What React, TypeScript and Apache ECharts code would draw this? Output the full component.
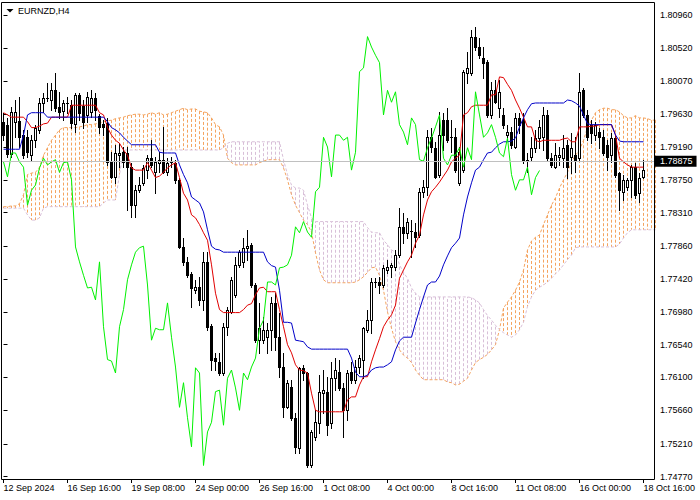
import React, { useEffect, useRef } from "react";
import * as echarts from "echarts";

const FONT = "'Liberation Sans', Arial, sans-serif";

// x-axis: bar index of labelled bars and their texts (H4 bars)
const labelBars = [0, 16, 32, 48, 64, 80, 96, 112, 128, 144, 160];
const timeLabels = [
  "12 Sep 2024", "16 Sep 16:00", "19 Sep 08:00", "24 Sep 00:00", "26 Sep 16:00",
  "1 Oct 08:00", "4 Oct 00:00", "8 Oct 16:00", "11 Oct 08:00", "16 Oct 00:00", "18 Oct 16:00",
];
const priceTicks = [
  1.7477, 1.7521, 1.7566, 1.761, 1.7654, 1.7698, 1.7742, 1.7786,
  1.7831, 1.7875, 1.7919, 1.7963, 1.8007, 1.8052, 1.8096,
];
const lastPrice = 1.78875;

const opens = [
  1.7953, 1.7949, 1.7910, 1.7953, 1.7954, 1.7935, 1.7932, 1.7908, 1.7928, 1.7942,
  1.7978, 1.7983, 1.7982, 1.7995, 1.7973, 1.7967, 1.7978, 1.7975, 1.7950, 1.7989,
  1.7974, 1.7962, 1.7966, 1.7985, 1.7961, 1.7950, 1.7951, 1.7899, 1.7879, 1.7908,
  1.7912, 1.7911, 1.7892, 1.7841, 1.7861, 1.7871, 1.7888, 1.7904, 1.7885, 1.7898,
  1.7902, 1.7885, 1.7898, 1.7898, 1.7875, 1.7785, 1.7765, 1.7749, 1.7727, 1.7731,
  1.7714, 1.7765, 1.7679, 1.7636, 1.7631, 1.7616, 1.7678, 1.7698, 1.7721, 1.7761,
  1.7765, 1.7784, 1.7788, 1.7734, 1.7660, 1.7660, 1.7664, 1.7674, 1.7710, 1.7664,
  1.7624, 1.7570, 1.7597, 1.7556, 1.7516, 1.7623, 1.7616, 1.7492, 1.7530, 1.7549,
  1.7589, 1.7591, 1.7549, 1.7609, 1.7617, 1.7596, 1.7566, 1.7617, 1.7607, 1.7624,
  1.7634, 1.7674, 1.7687, 1.7737, 1.7738, 1.7734, 1.7754, 1.7758, 1.7758, 1.7774,
  1.7812, 1.7804, 1.7806, 1.7805, 1.7801, 1.7859, 1.7865, 1.7932, 1.7918, 1.7882,
  1.7955, 1.7955, 1.7931, 1.7932, 1.7871, 1.7888, 1.8018, 1.8018, 1.8067, 1.8053,
  1.8038, 1.8033, 1.7962, 1.7995, 1.7971, 1.7962, 1.7935, 1.7939, 1.7919, 1.7958,
  1.7955, 1.7902, 1.7906, 1.7918, 1.7931, 1.7932, 1.7962, 1.7904, 1.7892, 1.7906,
  1.7904, 1.7922, 1.7906, 1.7908, 1.7904, 1.7995, 1.7962, 1.7949, 1.7935, 1.7939,
  1.7932, 1.7922, 1.7908, 1.7931, 1.7884, 1.7859, 1.7865, 1.7875, 1.7892, 1.7857,
  1.7879,
];
const highs = [
  1.7965, 1.7958, 1.7973, 1.7982, 1.7986, 1.7942, 1.7942, 1.7935, 1.7949, 1.7985,
  1.7991, 1.8005, 1.8005, 1.8018, 1.7993, 1.7982, 1.7986, 1.7982, 1.7991, 1.7991,
  1.7982, 1.7993, 1.7995, 1.7991, 1.7963, 1.7955, 1.7958, 1.7912, 1.7922, 1.7924,
  1.7919, 1.7919, 1.7898, 1.7868, 1.7879, 1.7895, 1.7908, 1.7928, 1.7906, 1.7912,
  1.7946, 1.7904, 1.7906, 1.7902, 1.7878, 1.7797, 1.7772, 1.7751, 1.7741, 1.7745,
  1.7778, 1.7778, 1.7682, 1.7643, 1.7643, 1.7683, 1.7705, 1.7745, 1.7772, 1.7781,
  1.7797, 1.7808, 1.7790, 1.7737, 1.7710, 1.7691, 1.7683, 1.7718, 1.7723, 1.7697,
  1.7643, 1.7607, 1.7607, 1.7562, 1.7624, 1.7627, 1.7617, 1.7540, 1.7566, 1.7613,
  1.7620, 1.7611, 1.7631, 1.7636, 1.7634, 1.7603, 1.7620, 1.7631, 1.7634, 1.7640,
  1.7678, 1.7701, 1.7743, 1.7743, 1.7745, 1.7761, 1.7768, 1.7764, 1.7781, 1.7837,
  1.7831, 1.7824, 1.7821, 1.7817, 1.7864, 1.7875, 1.7942, 1.7945, 1.7926, 1.7966,
  1.7965, 1.7971, 1.7955, 1.7945, 1.7919, 1.8022, 1.8046, 1.8076, 1.8080, 1.8065,
  1.8053, 1.8036, 1.8006, 1.8009, 1.8009, 1.7971, 1.7949, 1.7946, 1.7965, 1.7965,
  1.7965, 1.7911, 1.7932, 1.7942, 1.7955, 1.7973, 1.7969, 1.7911, 1.7924, 1.7919,
  1.7935, 1.7928, 1.7938, 1.7932, 1.8018, 1.7998, 1.7969, 1.7955, 1.7953, 1.7945,
  1.7942, 1.7928, 1.7938, 1.7935, 1.7885, 1.7882, 1.7878, 1.7895, 1.7898, 1.7884,
  1.7902,
];
const lows = [
  1.7928, 1.7906, 1.7906, 1.7932, 1.7919, 1.7904, 1.7906, 1.7902, 1.7919, 1.7938,
  1.7966, 1.7981, 1.7969, 1.7967, 1.7958, 1.7955, 1.7965, 1.7945, 1.7939, 1.7955,
  1.7945, 1.7953, 1.7959, 1.7955, 1.7938, 1.7935, 1.7895, 1.7878, 1.7871, 1.7892,
  1.7892, 1.7835, 1.7825, 1.7825, 1.7859, 1.7868, 1.7878, 1.7892, 1.7857, 1.7885,
  1.7884, 1.7882, 1.7892, 1.7871, 1.7784, 1.7761, 1.7745, 1.7705, 1.7723, 1.7707,
  1.7701, 1.7674, 1.7620, 1.7620, 1.7613, 1.7613, 1.7667, 1.7697, 1.7718, 1.7758,
  1.7758, 1.7768, 1.7731, 1.7658, 1.7643, 1.7656, 1.7643, 1.7647, 1.7647, 1.7611,
  1.7557, 1.7569, 1.7553, 1.7509, 1.7509, 1.7607, 1.7490, 1.7490, 1.7526, 1.7536,
  1.7562, 1.7533, 1.7542, 1.7593, 1.7593, 1.7530, 1.7553, 1.7603, 1.7603, 1.7616,
  1.7609, 1.7671, 1.7670, 1.7731, 1.7723, 1.7731, 1.7750, 1.7745, 1.7754, 1.7772,
  1.7790, 1.7797, 1.7772, 1.7785, 1.7798, 1.7852, 1.7855, 1.7912, 1.7878, 1.7879,
  1.7915, 1.7926, 1.7912, 1.7885, 1.7868, 1.7885, 1.8005, 1.8016, 1.8049, 1.8038,
  1.8012, 1.7959, 1.7958, 1.7978, 1.7959, 1.7945, 1.7928, 1.7918, 1.7918, 1.7938,
  1.7898, 1.7885, 1.7902, 1.7912, 1.7918, 1.7915, 1.7902, 1.7892, 1.7891, 1.7895,
  1.7892, 1.7878, 1.7884, 1.7885, 1.7902, 1.7959, 1.7928, 1.7924, 1.7928, 1.7918,
  1.7908, 1.7888, 1.7899, 1.7879, 1.7835, 1.7848, 1.7861, 1.7852, 1.7851, 1.7845,
  1.7878,
];
const closes = [
  1.7935, 1.7910, 1.7966, 1.7966, 1.7932, 1.7908, 1.7912, 1.7928, 1.7945, 1.7978,
  1.7985, 1.7985, 1.7995, 1.7971, 1.7966, 1.7978, 1.7977, 1.7951, 1.7989, 1.7965,
  1.7953, 1.7986, 1.7985, 1.7969, 1.7946, 1.7946, 1.7899, 1.7879, 1.7911, 1.7911,
  1.7899, 1.7892, 1.7841, 1.7861, 1.7868, 1.7891, 1.7904, 1.7895, 1.7899, 1.7902,
  1.7885, 1.7898, 1.7899, 1.7875, 1.7785, 1.7765, 1.7747, 1.7730, 1.7731, 1.7714,
  1.7765, 1.7678, 1.7634, 1.7632, 1.7616, 1.7678, 1.7701, 1.7741, 1.7761, 1.7778,
  1.7784, 1.7786, 1.7734, 1.7660, 1.7676, 1.7674, 1.7674, 1.7710, 1.7664, 1.7624,
  1.7570, 1.7603, 1.7556, 1.7517, 1.7623, 1.7616, 1.7492, 1.7537, 1.7550, 1.7591,
  1.7593, 1.7546, 1.7609, 1.7620, 1.7596, 1.7566, 1.7616, 1.7607, 1.7624, 1.7636,
  1.7676, 1.7687, 1.7738, 1.7738, 1.7734, 1.7757, 1.7758, 1.7761, 1.7774, 1.7812,
  1.7804, 1.7819, 1.7805, 1.7798, 1.7859, 1.7865, 1.7932, 1.7919, 1.7879, 1.7935,
  1.7935, 1.7928, 1.7932, 1.7888, 1.7912, 1.8020, 1.8025, 1.8067, 1.8053, 1.8042,
  1.8032, 1.7962, 1.7995, 1.7979, 1.7993, 1.7949, 1.7939, 1.7922, 1.7958, 1.7949,
  1.7902, 1.7900, 1.7918, 1.7931, 1.7946, 1.7962, 1.7904, 1.7895, 1.7908, 1.7908,
  1.7918, 1.7892, 1.7918, 1.7902, 1.7993, 1.7962, 1.7932, 1.7938, 1.7949, 1.7932,
  1.7911, 1.7906, 1.7931, 1.7882, 1.7861, 1.7875, 1.7875, 1.7892, 1.7855, 1.7878,
  1.78875,
];
// Tenkan-sen (red)
const tenkan = [
  1.7965, 1.7962, 1.7959, 1.7959, 1.7959, 1.7959, 1.7953, 1.7945, 1.7945, 1.7947,
  1.7950, 1.7951, 1.7959, 1.7959, 1.7959, 1.7959, 1.7959, 1.7975, 1.7975, 1.7975,
  1.7975, 1.7975, 1.7975, 1.7975, 1.7965, 1.7962, 1.7945, 1.7935, 1.7928, 1.7924,
  1.7915, 1.7908, 1.7891, 1.7888, 1.7888, 1.7888, 1.7898, 1.7888, 1.7878, 1.7880,
  1.7885, 1.7891, 1.7895, 1.7898, 1.7878, 1.7857, 1.7848, 1.7828, 1.7824, 1.7815,
  1.7804, 1.7794, 1.7761, 1.7723, 1.7701, 1.7697, 1.7697, 1.7697, 1.7697, 1.7697,
  1.7701, 1.7707, 1.7709, 1.7721, 1.7730, 1.7731, 1.7725, 1.7725, 1.7725, 1.7701,
  1.7678, 1.7654, 1.7643, 1.7627, 1.7620, 1.7619, 1.7616, 1.7589, 1.7566, 1.7564,
  1.7564, 1.7564, 1.7564, 1.7564, 1.7564, 1.7564, 1.7580, 1.7584, 1.7584, 1.7600,
  1.7611, 1.7611, 1.7631, 1.7647, 1.7662, 1.7678, 1.7687, 1.7694, 1.7707, 1.7743,
  1.7754, 1.7765, 1.7774, 1.7790, 1.7801, 1.7828, 1.7848, 1.7859, 1.7865, 1.7872,
  1.7880, 1.7888, 1.7899, 1.7904, 1.7908, 1.7962, 1.7965, 1.7973, 1.7975, 1.7975,
  1.7975, 1.7975, 1.7989, 1.7989, 1.8013, 1.8012, 1.8003, 1.7995, 1.7982, 1.7971,
  1.7959, 1.7946, 1.7946, 1.7928, 1.7926, 1.7928, 1.7928, 1.7928, 1.7928, 1.7928,
  1.7930, 1.7931, 1.7926, 1.7926, 1.7946, 1.7946, 1.7946, 1.7947, 1.7947, 1.7949,
  1.7949, 1.7949, 1.7949, 1.7935, 1.7904, 1.7899, 1.7895, 1.7892, 1.7892, 1.7892,
  1.7892,
];
// Kijun-sen (blue)
const kijun = [
  1.7916, 1.7916, 1.7916, 1.7916, 1.7916, 1.7935, 1.7962, 1.7965, 1.7965, 1.7965,
  1.7965, 1.7959, 1.7959, 1.7959, 1.7959, 1.7959, 1.7959, 1.7959, 1.7959, 1.7959,
  1.7959, 1.7959, 1.7959, 1.7959, 1.7959, 1.7959, 1.7953, 1.7945, 1.7942, 1.7938,
  1.7932, 1.7927, 1.7922, 1.7922, 1.7922, 1.7922, 1.7922, 1.7922, 1.7922, 1.7912,
  1.7911, 1.7911, 1.7911, 1.7911, 1.7895, 1.7882, 1.7871, 1.7852, 1.7848, 1.7844,
  1.7832, 1.7808, 1.7786, 1.7782, 1.7781, 1.7778, 1.7778, 1.7778, 1.7778, 1.7778,
  1.7778, 1.7778, 1.7778, 1.7778, 1.7778, 1.7778, 1.7765, 1.7760, 1.7758, 1.7727,
  1.7684, 1.7684, 1.7683, 1.7660, 1.7659, 1.7658, 1.7651, 1.7648, 1.7648, 1.7648,
  1.7648, 1.7648, 1.7648, 1.7648, 1.7648, 1.7648, 1.7648, 1.7636, 1.7617, 1.7611,
  1.7611, 1.7613, 1.7620, 1.7623, 1.7624, 1.7624, 1.7627, 1.7631, 1.7647, 1.7659,
  1.7664, 1.7664, 1.7664, 1.7683, 1.7701, 1.7718, 1.7734, 1.7738, 1.7738, 1.7746,
  1.7761, 1.7773, 1.7784, 1.7790, 1.7797, 1.7828, 1.7852, 1.7871, 1.7888, 1.7892,
  1.7902, 1.7911, 1.7912, 1.7918, 1.7923, 1.7926, 1.7926, 1.7927, 1.7931, 1.7946,
  1.7958, 1.7969, 1.7977, 1.7978, 1.7978, 1.7978, 1.7978, 1.7978, 1.7978, 1.7978,
  1.7978, 1.7982, 1.7981, 1.7978, 1.7974, 1.7962, 1.7950, 1.7949, 1.7949, 1.7949,
  1.7949, 1.7949, 1.7949, 1.7935, 1.7927, 1.7926, 1.7926, 1.7926, 1.7926, 1.7926,
  1.7926,
];
// Chikou span (green), bars 0..134
const chikou = [
  1.7899, 1.7879, 1.7911, 1.7911,
  1.7899, 1.7892, 1.7841, 1.7861, 1.7868, 1.7891, 1.7904, 1.7895, 1.7899, 1.7902,
  1.7885, 1.7898, 1.7899, 1.7875, 1.7785, 1.7765, 1.7747, 1.7730, 1.7731, 1.7714,
  1.7765, 1.7678, 1.7634, 1.7632, 1.7616, 1.7678, 1.7701, 1.7741, 1.7761, 1.7778,
  1.7784, 1.7786, 1.7734, 1.7660, 1.7676, 1.7674, 1.7674, 1.7710, 1.7664, 1.7624,
  1.7570, 1.7603, 1.7556, 1.7517, 1.7623, 1.7616, 1.7492, 1.7537, 1.7550, 1.7591,
  1.7593, 1.7546, 1.7609, 1.7620, 1.7596, 1.7566, 1.7616, 1.7607, 1.7624, 1.7636,
  1.7676, 1.7687, 1.7738, 1.7738, 1.7734, 1.7757, 1.7758, 1.7761, 1.7774, 1.7812,
  1.7804, 1.7819, 1.7805, 1.7798, 1.7859, 1.7865, 1.7932, 1.7919, 1.7879, 1.7935,
  1.7935, 1.7928, 1.7932, 1.7888, 1.7912, 1.8020, 1.8025, 1.8067, 1.8053, 1.8042,
  1.8032, 1.7962, 1.7995, 1.7979, 1.7993, 1.7949, 1.7939, 1.7922, 1.7958, 1.7949,
  1.7902, 1.7900, 1.7918, 1.7931, 1.7946, 1.7962, 1.7904, 1.7895, 1.7908, 1.7908,
  1.7918, 1.7892, 1.7918, 1.7902, 1.7993, 1.7962, 1.7932, 1.7938, 1.7949, 1.7932,
  1.7911, 1.7906, 1.7931, 1.7882, 1.7861, 1.7875, 1.7875, 1.7892, 1.7855, 1.7878,
  1.78875,
];
// Senkou span A (sandy brown), bars 0..163
const spanA = [
  1.7839, 1.7839, 1.7840, 1.7840, 1.7843, 1.7855, 1.7882, 1.7884, 1.7885, 1.7892,
  1.7908, 1.7918, 1.7928, 1.7935, 1.7942, 1.7945, 1.7945, 1.7945, 1.7945, 1.7946,
  1.7947, 1.7949, 1.7949, 1.7950, 1.7951, 1.7953, 1.7954, 1.7955, 1.7957, 1.7958,
  1.7959, 1.7961, 1.7962, 1.7963, 1.7963, 1.7962, 1.7963, 1.7965, 1.7963, 1.7965,
  1.7962, 1.7963, 1.7965, 1.7967, 1.7969, 1.7971, 1.7969, 1.7970, 1.7970, 1.7967,
  1.7966, 1.7965, 1.7958, 1.7949, 1.7946, 1.7935, 1.7904, 1.7898, 1.7895, 1.7895,
  1.7895, 1.7895, 1.7895, 1.7895, 1.7898, 1.7900, 1.7902, 1.7902, 1.7902, 1.7902,
  1.7891, 1.7875, 1.7855, 1.7841, 1.7831, 1.7821, 1.7815, 1.7805, 1.7777, 1.7754,
  1.7741, 1.7737, 1.7737, 1.7737, 1.7737, 1.7737, 1.7737, 1.7737, 1.7738, 1.7741,
  1.7745, 1.7751, 1.7757, 1.7758, 1.7747, 1.7727, 1.7698, 1.7676, 1.7658, 1.7647,
  1.7640, 1.7636, 1.7630, 1.7620, 1.7613, 1.7607, 1.7607, 1.7607, 1.7607, 1.7607,
  1.7607, 1.7604, 1.7603, 1.7600, 1.7601, 1.7605, 1.7609, 1.7620, 1.7630, 1.7634,
  1.7637, 1.7641, 1.7647, 1.7654, 1.7674, 1.7703, 1.7711, 1.7718, 1.7727, 1.7738,
  1.7754, 1.7781, 1.7793, 1.7798, 1.7801, 1.7815, 1.7828, 1.7841, 1.7851, 1.7864,
  1.7875, 1.7885, 1.7899, 1.7908, 1.7915, 1.7928, 1.7945, 1.7955, 1.7965, 1.7969,
  1.7971, 1.7971, 1.7969, 1.7969, 1.7966, 1.7961, 1.7958, 1.7958, 1.7961, 1.7958,
  1.7958, 1.7957, 1.7955, 1.7955,
];
// Senkou span B (thistle), bars 0..163
const spanB = [
  1.7837, 1.7837, 1.7837, 1.7837, 1.7837, 1.7837, 1.7828, 1.7821, 1.7821, 1.7824,
  1.7837, 1.7839, 1.7839, 1.7839, 1.7839, 1.7839, 1.7839, 1.7839, 1.7839, 1.7839,
  1.7839, 1.7839, 1.7839, 1.7839, 1.7839, 1.7844, 1.7848, 1.7848, 1.7848, 1.7882,
  1.7915, 1.7915, 1.7915, 1.7915, 1.7915, 1.7915, 1.7915, 1.7915, 1.7915, 1.7915,
  1.7915, 1.7915, 1.7915, 1.7915, 1.7915, 1.7915, 1.7915, 1.7915, 1.7915, 1.7915,
  1.7915, 1.7915, 1.7915, 1.7915, 1.7915, 1.7918, 1.7924, 1.7926, 1.7926, 1.7926,
  1.7926, 1.7926, 1.7926, 1.7926, 1.7926, 1.7926, 1.7926, 1.7926, 1.7926, 1.7926,
  1.7902, 1.7882, 1.7868, 1.7864, 1.7864, 1.7861, 1.7841, 1.7824, 1.7819, 1.7819,
  1.7819, 1.7819, 1.7819, 1.7819, 1.7819, 1.7819, 1.7819, 1.7819, 1.7819, 1.7819,
  1.7819, 1.7811, 1.7805, 1.7804, 1.7804, 1.7794, 1.7788, 1.7781, 1.7778, 1.7761,
  1.7751, 1.7743, 1.7730, 1.7723, 1.7718, 1.7718, 1.7718, 1.7718, 1.7718, 1.7718,
  1.7718, 1.7718, 1.7718, 1.7718, 1.7718, 1.7718, 1.7718, 1.7717, 1.7714, 1.7710,
  1.7701, 1.7693, 1.7687, 1.7680, 1.7674, 1.7670, 1.7667, 1.7664, 1.7667, 1.7674,
  1.7684, 1.7705, 1.7718, 1.7727, 1.7731, 1.7734, 1.7738, 1.7743, 1.7749, 1.7754,
  1.7761, 1.7768, 1.7774, 1.7784, 1.7785, 1.7785, 1.7785, 1.7785, 1.7785, 1.7785,
  1.7785, 1.7785, 1.7785, 1.7785, 1.7789, 1.7797, 1.7804, 1.7808, 1.7808, 1.7808,
  1.7808, 1.7808, 1.7808, 1.7808,
];

const SANDY = "#F4A460";
const THISTLE = "#D8BFD8";

export default function App() {
  const ref = useRef<HTMLDivElement>(null);

  useEffect(() => {
    const chart = echarts.init(ref.current as HTMLDivElement, null, { renderer: "svg" });

    const candleData = opens.map((o, i) => [i, o, highs[i], lows[i], closes[i]]);
    const toXY = (arr: number[]) => arr.map((v, i) => [i, v]);

    // Kumo hatching: one vertical dotted segment per bar between span A and span B
    const kumoUp: any[] = [];
    const kumoDown: any[] = [];
    spanA.forEach((a, i) => {
      const b = spanB[i];
      const target = a >= b ? kumoUp : kumoDown;
      target.push([i, a], [i, b], [i, null]);
    });

    const option: any = {
      animation: false,
      backgroundColor: "#ffffff",
      grid: { left: 1, top: 2, width: 654, height: 477, containLabel: false },
      xAxis: {
        type: "value",
        min: -0.625,
        max: 162.875,
        position: "bottom",
        axisLine: { show: false },
        axisTick: {
          show: true,
          customValues: labelBars,
          length: 4,
          inside: false,
          lineStyle: { color: "#000", width: 1 },
        },
        axisLabel: {
          show: true,
          customValues: labelBars,
          formatter: (v: number) => {
            const k = labelBars.indexOf(Math.round(v));
            return k >= 0 ? timeLabels[k] : "";
          },
          align: "left",
          margin: 4,
          color: "#000",
          fontSize: 9,
          fontFamily: FONT,
        },
        splitLine: { show: false },
      },
      yAxis: {
        type: "value",
        min: 1.74739,
        max: 1.81134,
        position: "right",
        axisLine: { show: false },
        axisTick: {
          show: true,
          customValues: priceTicks,
          length: 4,
          inside: false,
          lineStyle: { color: "#000", width: 1 },
        },
        axisLabel: {
          show: true,
          customValues: priceTicks,
          formatter: (v: number) => v.toFixed(5),
          margin: 5,
          color: "#000",
          fontSize: 9,
          fontFamily: FONT,
        },
        splitLine: { show: false },
      },
      graphic: [
        {
          type: "rect",
          silent: true,
          z: 100,
          shape: { x: 1.5, y: 2.5, width: 653, height: 477 },
          style: { fill: "none", stroke: "#000", lineWidth: 1 },
        },
        {
          type: "polygon",
          silent: true,
          z: 100,
          shape: { points: [[6.5, 9], [13.5, 9], [10, 12.5]] },
          style: { fill: "#000" },
        },
        {
          type: "text",
          silent: true,
          z: 100,
          x: 18,
          y: 11,
          style: {
            text: "EURNZD,H4",
            fill: "#000",
            font: `9px ${FONT}`,
            verticalAlign: "middle",
            align: "left",
          },
        },
      ],
      series: [
        {
          name: "Kumo up",
          type: "line",
          z: 1,
          silent: true,
          symbol: "none",
          connectNulls: false,
          data: kumoUp,
          lineStyle: { color: SANDY, width: 1, type: [3, 2] },
        },
        {
          name: "Kumo down",
          type: "line",
          z: 1,
          silent: true,
          symbol: "none",
          connectNulls: false,
          data: kumoDown,
          lineStyle: { color: THISTLE, width: 1, type: [3, 2] },
        },
        {
          name: "Senkou A",
          type: "line",
          z: 2,
          silent: true,
          symbol: "none",
          data: toXY(spanA),
          lineStyle: { color: SANDY, width: 1, type: [3, 2] },
        },
        {
          name: "Senkou B",
          type: "line",
          z: 2,
          silent: true,
          symbol: "none",
          data: toXY(spanB),
          lineStyle: { color: THISTLE, width: 1, type: [3, 2] },
          markLine: {
            silent: true,
            symbol: "none",
            animation: false,
            lineStyle: { color: "#C0C0C0", width: 1, type: "solid" },
            label: {
              show: true,
              position: "end",
              distance: 0,
              formatter: lastPrice.toFixed(5),
              backgroundColor: "#000",
              color: "#fff",
              fontSize: 9,
              fontFamily: FONT,
              lineHeight: 10,
              padding: [1, 4, 0, 5],
            },
            data: [{ yAxis: lastPrice }],
          },
        },
        {
          name: "candles",
          type: "custom",
          z: 3,
          silent: true,
          data: candleData,
          encode: { x: 0, y: [1, 2, 3, 4] },
          renderItem: (params: any, api: any) => {
            const i = api.value(0);
            const o = api.value(1);
            const h = api.value(2);
            const l = api.value(3);
            const c = api.value(4);
            const pO = api.coord([i, o]);
            const pC = api.coord([i, c]);
            const pH = api.coord([i, h]);
            const pL = api.coord([i, l]);
            const x = pO[0];
            const top = Math.round(Math.min(pO[1], pC[1]));
            const bot = Math.round(Math.max(pO[1], pC[1]));
            const children: any[] = [
              {
                type: "rect",
                shape: { x: x - 0.5, y: Math.round(pH[1]), width: 1, height: Math.round(pL[1]) + 1 - Math.round(pH[1]) },
                style: { fill: "#000" },
              },
            ];
            if (bot - top < 2) {
              children.push({
                type: "rect",
                shape: { x: x - 1.5, y: top, width: 3, height: 1 },
                style: { fill: "#000" },
              });
            } else if (c >= o) {
              children.push({
                type: "rect",
                shape: { x: x - 1.5, y: top, width: 3, height: bot - top + 1 },
                style: { fill: "#000" },
              });
              children.push({
                type: "rect",
                shape: { x: x - 0.5, y: top + 1, width: 1, height: bot - top - 1 },
                style: { fill: "#fff" },
              });
            } else {
              children.push({
                type: "rect",
                shape: { x: x - 1.5, y: top, width: 3, height: bot - top + 1 },
                style: { fill: "#000" },
              });
            }
            return { type: "group", children };
          },
        },
        {
          name: "Tenkan-sen",
          type: "line",
          z: 4,
          silent: true,
          symbol: "none",
          data: toXY(tenkan),
          lineStyle: { color: "#E00000", width: 1 },
        },
        {
          name: "Kijun-sen",
          type: "line",
          z: 4,
          silent: true,
          symbol: "none",
          data: toXY(kijun),
          lineStyle: { color: "#0000C8", width: 1 },
        },
        {
          name: "Chikou Span",
          type: "line",
          z: 4,
          silent: true,
          symbol: "none",
          data: toXY(chikou),
          lineStyle: { color: "#00F000", width: 1 },
        },
      ],
    };

    chart.setOption(option);
    return () => chart.dispose();
  }, []);

  return (
    <div
      ref={ref}
      style={{ position: "absolute", left: 0, top: 0, width: 700, height: 500, background: "#fff" }}
    />
  );
}
